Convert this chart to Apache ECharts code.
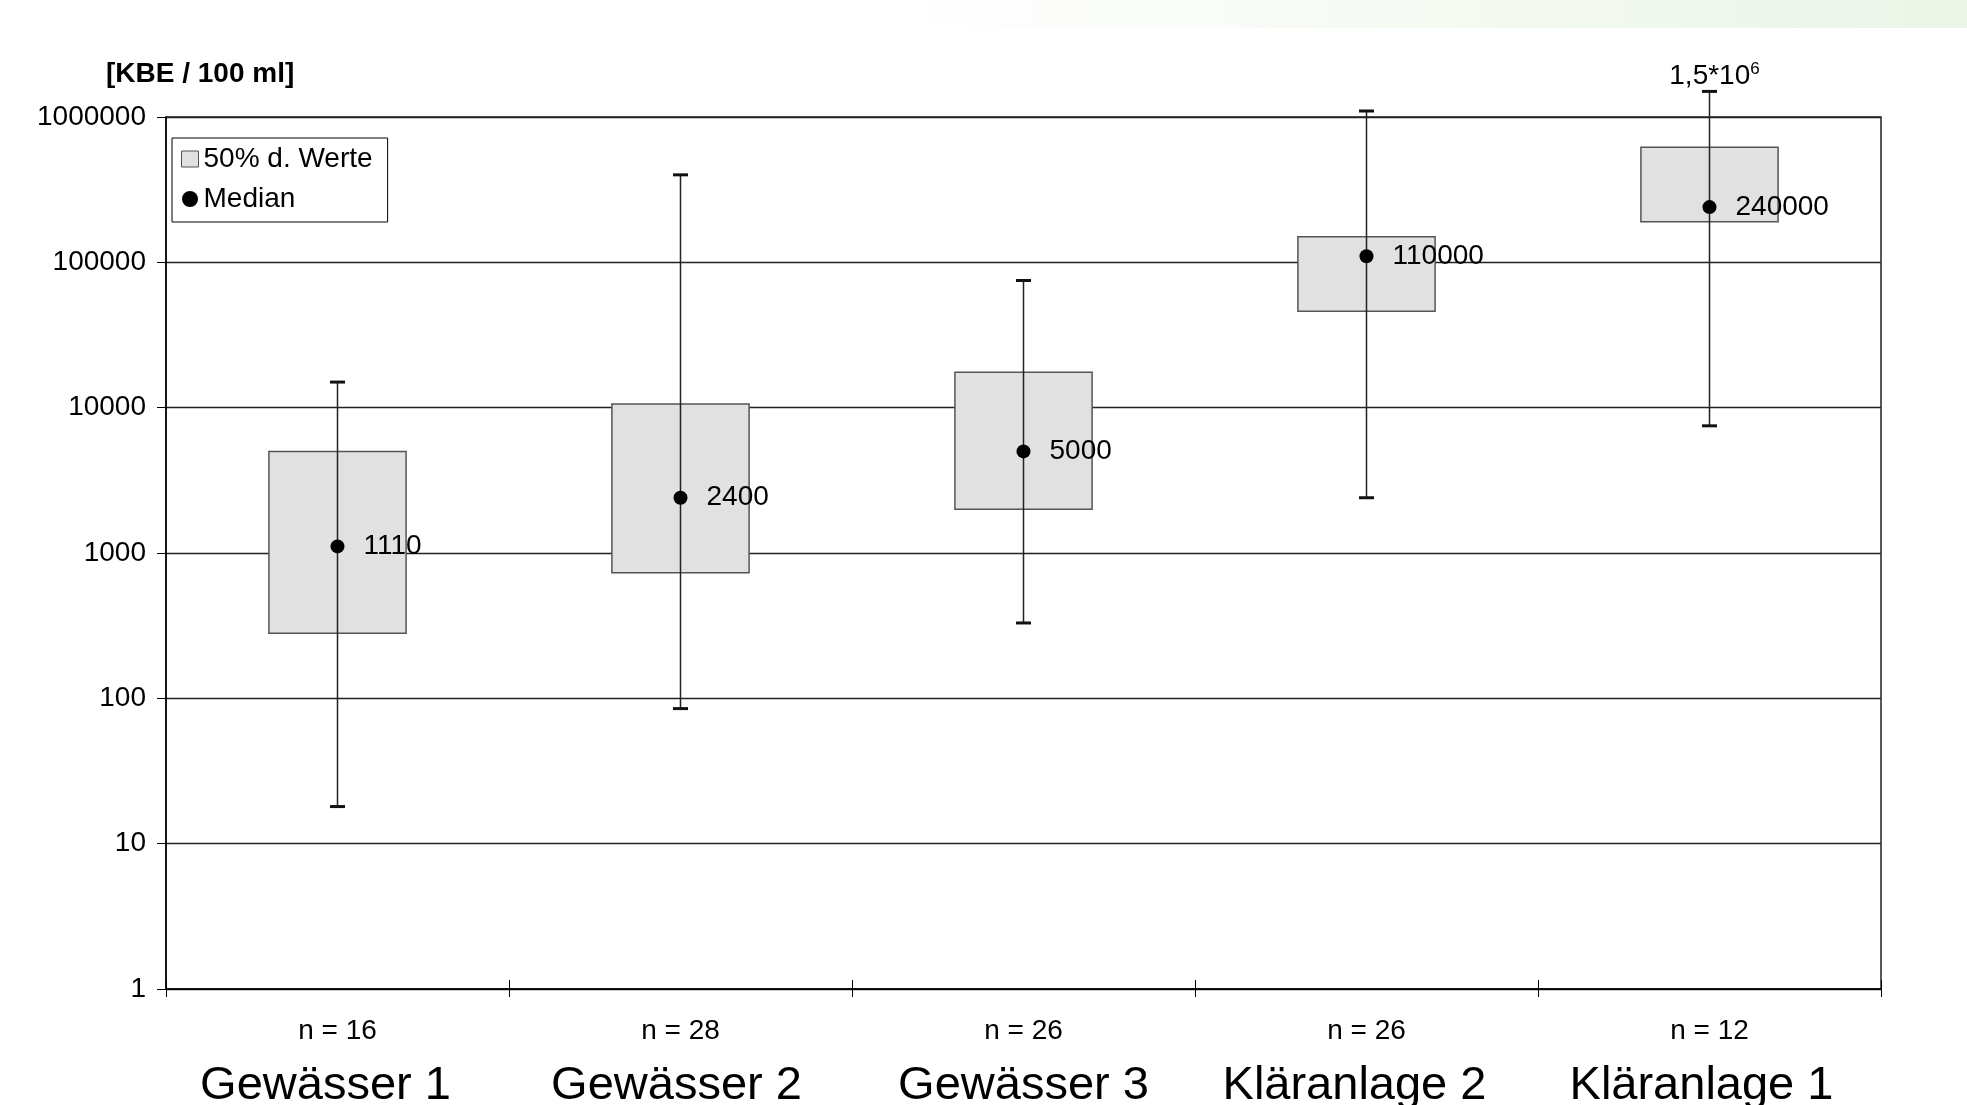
<!DOCTYPE html>
<html>
<head>
<meta charset="utf-8">
<script src="https://cdn.jsdelivr.net/npm/echarts@6/dist/echarts.min.js"></script>
<style>
  html, body { margin: 0; padding: 0; background: #fff; }
  #main { width: 1967px; height: 1105px; }
</style>
</head>
<body>
<div id="main"></div>
<script>
// Kategorien und Stichprobenumfang
var categories = ['Gewässer 1', 'Gewässer 2', 'Gewässer 3', 'Kläranlage 2', 'Kläranlage 1'];
var sampleSizes = [16, 28, 26, 26, 12];

// Werte in KBE / 100 ml
var whiskerLow = [18, 85, 330, 2400, 7500];
var quartileLow = [280, 730, 2000, 46000, 190000];
var medians = [1110, 2400, 5000, 110000, 240000];
var quartileHigh = [5000, 10600, 17500, 150000, 620000];
var whiskerHigh = [15000, 400000, 75000, 1100000, 1500000];
var whiskerNotes = ['', '', '', '', '{a|1,5*10}{b|6}'];

var yMin = 1;
var yMax = 1000000;

// Beschriftungen sitzen im Original leicht links von der Mitte (Pixel)
var labelShift = [12, 4, 0, 12, 8];

var fontFamily = '"Liberation Sans", Arial, sans-serif';

var boxData = categories.map(function (c, i) {
    return [i, whiskerLow[i], quartileLow[i], quartileHigh[i], whiskerHigh[i]];
});
var medianData = categories.map(function (c, i) {
    return [i, medians[i]];
});

function renderBox(params, api) {
    var i = api.value(0);
    var pLow = api.coord([i, api.value(1)]);
    var pQ1 = api.coord([i, api.value(2)]);
    var pQ3 = api.coord([i, api.value(3)]);
    var pHigh = api.coord([i, api.value(4)]);
    var w = api.size([1, medians[i]])[0] * 0.4;
    var capW = 15;
    var children = [
        {
            type: 'rect',
            shape: { x: pQ3[0] - w / 2, y: pQ3[1], width: w, height: pQ1[1] - pQ3[1] },
            style: { fill: '#e1e1e1', stroke: '#555', lineWidth: 1.5 }
        },
        {
            type: 'line',
            shape: { x1: pLow[0], y1: pLow[1], x2: pHigh[0], y2: pHigh[1] },
            style: { stroke: '#222', lineWidth: 1.5 }
        },
        {
            type: 'rect',
            shape: { x: pLow[0] - capW / 2, y: pLow[1] - 1.5, width: capW, height: 3 },
            style: { fill: '#111' }
        },
        {
            type: 'rect',
            shape: { x: pHigh[0] - capW / 2, y: pHigh[1] - 1.5, width: capW, height: 3 },
            style: { fill: '#111' }
        }
    ];
    var note = whiskerNotes[i];
    if (note) {
        children.push({
            type: 'text',
            x: pHigh[0] + 5,
            y: pHigh[1] - 1,
            style: {
                text: note,
                align: 'center',
                verticalAlign: 'bottom',
                fill: '#000',
                rich: {
                    a: { fontSize: 28, fontFamily: fontFamily, fill: '#000', verticalAlign: 'bottom', lineHeight: 30 },
                    b: { fontSize: 17, fontFamily: fontFamily, fill: '#000', verticalAlign: 'top' }
                }
            }
        });
    }
    return { type: 'group', children: children };
}

var labelRich = {
    n: { fontFamily: fontFamily, fontSize: 28, lineHeight: 40, color: '#000', verticalAlign: 'middle' }
};
labelShift.forEach(function (s, i) {
    labelRich['c' + i] = {
        fontFamily: fontFamily, fontSize: 47, lineHeight: 70, color: '#000',
        verticalAlign: 'middle', padding: [0, 2 * s, 0, 0]
    };
});

var chartDom = document.getElementById('main');
var myChart = echarts.init(chartDom);

var option = {
    backgroundColor: '#fff',
    animation: false,
    graphic: [
        {
            type: 'rect',
            left: 0, top: 0, z: -10,
            shape: { width: 1967, height: 28 },
            style: {
                fill: new echarts.graphic.LinearGradient(0, 0, 1, 0, [
                    { offset: 0, color: '#ffffff' },
                    { offset: 0.45, color: '#ffffff' },
                    { offset: 1, color: '#ebf5e7' }
                ])
            }
        }
    ],
    title: {
        text: '[KBE / 100 ml]',
        left: 106,
        top: 60,
        padding: 0,
        textStyle: { fontFamily: fontFamily, fontWeight: 'bold', fontSize: 28, color: '#000' }
    },
    legend: {
        orient: 'vertical',
        left: 172,
        top: 138,
        padding: [6, 15, 8, 9],
        itemGap: 10,
        itemWidth: 17,
        itemHeight: 16,
        borderColor: '#000',
        borderWidth: 1,
        backgroundColor: '#fff',
        textStyle: { fontFamily: fontFamily, fontSize: 28, color: '#000', lineHeight: 30 },
        data: [
            { name: '50% d. Werte', icon: 'rect', itemStyle: { color: '#e1e1e1', borderColor: '#555', borderWidth: 1 } },
            { name: 'Median', icon: 'circle', itemStyle: { color: '#000', opacity: 1 } }
        ]
    },
    grid: {
        left: 166,
        right: 86,
        top: 117,
        bottom: 116,
        outerBoundsMode: 'none',
        containLabel: false,
        show: true,
        borderColor: '#222',
        borderWidth: 1.5,
        backgroundColor: 'transparent'
    },
    xAxis: [
        {
            type: 'category',
            data: categories,
            boundaryGap: true,
            axisLine: { lineStyle: { color: '#000', width: 1.5 } },
            axisTick: { show: true, length: 8, lineStyle: { color: '#000' } },
            axisLabel: {
                interval: 0,
                margin: 22,
                color: '#000',
                formatter: function (value, idx) {
                    return '{n|n = ' + sampleSizes[idx] + '}\n{c' + idx + '|' + value + '}';
                },
                rich: labelRich
            },
            splitLine: { show: false }
        },
        {
            type: 'category',
            data: categories,
            position: 'bottom',
            boundaryGap: true,
            axisLine: { show: false },
            axisTick: { show: true, inside: true, length: 9, lineStyle: { color: '#000' } },
            axisLabel: { show: false },
            splitLine: { show: false }
        }
    ],
    yAxis: {
        type: 'log',
        logBase: 10,
        min: yMin,
        max: yMax,
        axisLine: { show: true, lineStyle: { color: '#000', width: 1.5 } },
        axisTick: { show: true, length: 9, lineStyle: { color: '#000' } },
        axisLabel: {
            margin: 20,
            color: '#000',
            fontFamily: fontFamily,
            fontSize: 28,
            formatter: function (v) { return String(Math.round(v)); }
        },
        splitLine: { show: true, lineStyle: { color: '#222', width: 1.3 } },
        minorTick: { show: false },
        minorSplitLine: { show: false }
    },
    series: [
        {
            name: '50% d. Werte',
            type: 'custom',
            xAxisIndex: 0,
            renderItem: renderBox,
            itemStyle: { color: '#e1e1e1', borderColor: '#555' },
            encode: { x: 0, y: [1, 2, 3, 4] },
            data: boxData,
            z: 2
        },
        {
            name: 'Median',
            type: 'scatter',
            xAxisIndex: 0,
            symbol: 'circle',
            symbolSize: 14,
            itemStyle: { color: '#000', opacity: 1 },
            emphasis: { disabled: true },
            label: {
                show: true,
                position: 'right',
                distance: 19,
                color: '#000',
                opacity: 1,
                fontFamily: fontFamily,
                fontSize: 28,
                formatter: function (p) { return String(medians[p.dataIndex]); }
            },
            data: medianData,
            z: 3
        }
    ]
};

myChart.setOption(option);
</script>
</body>
</html>
